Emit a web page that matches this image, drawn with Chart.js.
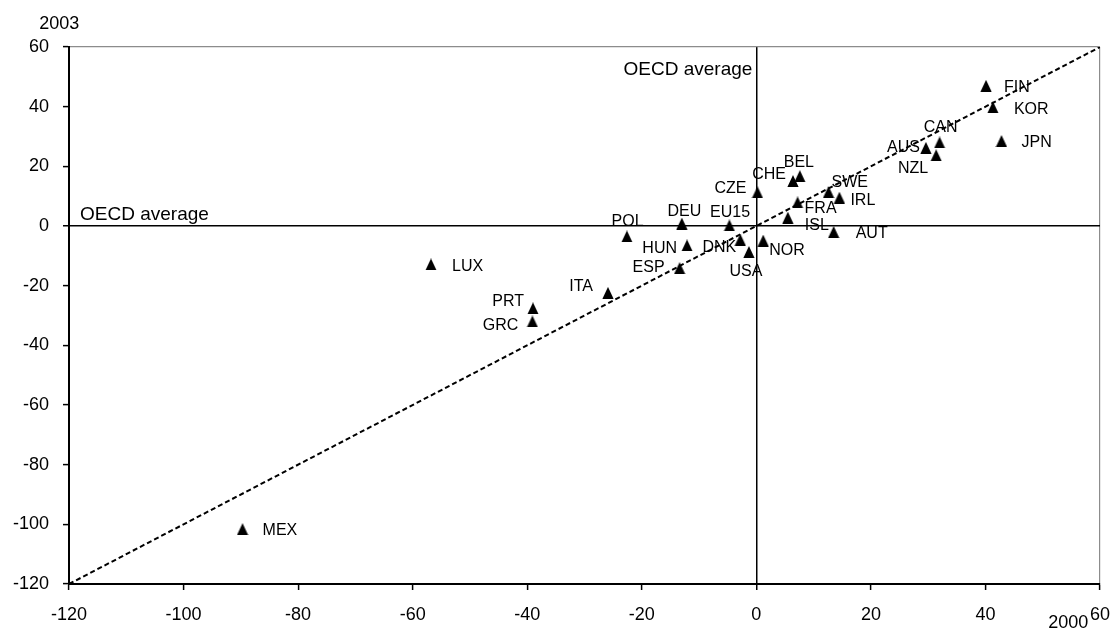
<!DOCTYPE html>
<html><head><meta charset="utf-8">
<script src="https://cdn.jsdelivr.net/npm/chart.js@4.4.0/dist/chart.umd.min.js"></script>
<style>html,body{margin:0;padding:0;background:#fff}#wrap{width:1114px;height:632px}</style>
</head><body><div id="wrap"><canvas id="c" width="1114" height="632"></canvas></div>
<script>
// ---- data ----
const countries = ['FIN','KOR','CAN','AUS','NZL','JPN','BEL','CHE','CZE','SWE','IRL','FRA','ISL','AUT','EU15','DEU','POL','HUN','DNK','USA','NOR','ESP','ITA','LUX','PRT','GRC','MEX'];
const x2000 = [40.1, 41.3, 32.0, 29.6, 31.4, 42.8, 7.6, 6.4, 0.2, 12.6, 14.5, 7.2, 5.5, 13.5, -4.7, -13.0, -22.6, -12.1, -2.8, -1.3, 1.2, -13.4, -25.9, -56.8, -39.0, -39.1, -89.7];
const y2003 = [47.0, 39.8, 28.0, 26.2, 23.7, 28.5, 16.7, 15.1, 11.3, 11.4, 9.5, 7.9, 2.8, -2.0, 0.2, 0.8, -3.5, -6.5, -4.6, -8.7, -4.9, -14.1, -22.4, -12.9, -27.6, -32.0, -101.6];
const diagLineX = [-120, 60];
const diagLineY = [-120, 60];
const axisMin = -120, axisMax = 60, axisStep = 20;
const xTitle = '2000', yTitle = '2003', avgLabel = 'OECD average';

// ---- label layout (relative to each point) ----
const labelAlign = ['left','left','center','right','right','left','center','right','right','left','left','left','left','left','center','center','center','right','right','center','left','right','right','left','right','right','left'];
const labelDx = [18,21,1,-6,-8,20,-1,-7,-11,3,11,7,17,22,0.7,2.5,0.7,-10,-4,-3,6,-15,-15,21,-9,-14,20];
const labelDy = [2,2,-15,0,13,2,-14,-6,-4,-9,3,6,8,2,-13,-12,-15,3,8,20,10,0,-6,2,-7,4,1];

const FONT = '"Liberation Sans", Arial, sans-serif';

// triangle marker
const tri = document.createElement('canvas');
tri.width = 12; tri.height = 12;
(function () {
  const g = tri.getContext('2d');
  g.fillStyle = '#000';
  g.beginPath();
  g.moveTo(6, 0);
  g.lineTo(11.6, 12);
  g.lineTo(0.4, 12);
  g.closePath();
  g.fill();
})();

const annot = {
  id: 'annot',
  afterDatasetsDraw(chart) {
    const ctx = chart.ctx;
    const meta = chart.getDatasetMeta(1);
    const ca = chart.chartArea;
    const xs = chart.scales.x, ys = chart.scales.y;
    ctx.save();
    ctx.fillStyle = '#000';
    ctx.font = '16px ' + FONT;
    ctx.textBaseline = 'middle';
    meta.data.forEach((pt, i) => {
      ctx.textAlign = labelAlign[i];
      ctx.fillText(countries[i], pt.x + labelDx[i], pt.y + labelDy[i]);
    });
    ctx.textBaseline = 'alphabetic';
    ctx.font = '19px ' + FONT;
    ctx.textAlign = 'left';
    ctx.fillText(avgLabel, ca.left + 11, ys.getPixelForValue(0) - 6.4);
    ctx.textAlign = 'right';
    ctx.fillText(avgLabel, xs.getPixelForValue(0) - 4, ca.top + 28);
    ctx.font = '18px ' + FONT;
    ctx.textAlign = 'left';
    ctx.fillText(yTitle, ca.left - 29.7, ca.top - 17.7);
    ctx.fillText(xTitle, ca.right - 51.7, ca.bottom + 44.3);
    ctx.restore();
  }
};

function gridColor(c) {
  const v = c.tick && c.tick.value;
  if (v === 0) return '#000';
  if (v === axisMax) return '#8c8c8c';
  return 'rgba(0,0,0,0)';
}
function gridWidth(c) {
  const v = c.tick && c.tick.value;
  return v === 0 ? 1.5 : 1.2;
}

new Chart(document.getElementById('c'), {
  type: 'scatter',
  data: {
    datasets: [
      {
        type: 'line',
        data: diagLineX.map((v, i) => ({x: v, y: diagLineY[i]})),
        borderColor: '#000',
        borderWidth: 2,
        borderDash: [5, 3],
        pointRadius: 0,
        fill: false
      },
      {
        data: x2000.map((v, i) => ({x: v, y: y2003[i]})),
        pointStyle: tri,
        pointRadius: 6,
        backgroundColor: '#000',
        borderColor: '#000',
        borderWidth: 0
      }
    ]
  },
  options: {
    responsive: false,
    animation: false,
    devicePixelRatio: 1,
    layout: {padding: {top: 47, right: 14, left: 0, bottom: 0}},
    plugins: {legend: {display: false}, tooltip: {enabled: false}},
    scales: {
      x: {
        type: 'linear', min: axisMin, max: axisMax,
        afterFit(s) { s.height = 48; s.paddingRight = 0; s.paddingLeft = 0; },
        ticks: {stepSize: axisStep, padding: 14, color: '#000', font: {family: FONT, size: 18}},
        grid: {color: gridColor, lineWidth: gridWidth, tickLength: 6, tickColor: '#000', tickWidth: 1.5, drawOnChartArea: true},
        border: {color: '#000', width: 2}
      },
      y: {
        type: 'linear', min: axisMin, max: axisMax,
        afterFit(s) { s.width = 69; s.paddingTop = 0; s.paddingBottom = 0; },
        ticks: {stepSize: axisStep, padding: 14, color: '#000', font: {family: FONT, size: 18}},
        grid: {color: gridColor, lineWidth: gridWidth, tickLength: 6, tickColor: '#000', tickWidth: 1.5, drawOnChartArea: true},
        border: {color: '#000', width: 2}
      }
    }
  },
  plugins: [annot]
});
</script>
</body></html>
